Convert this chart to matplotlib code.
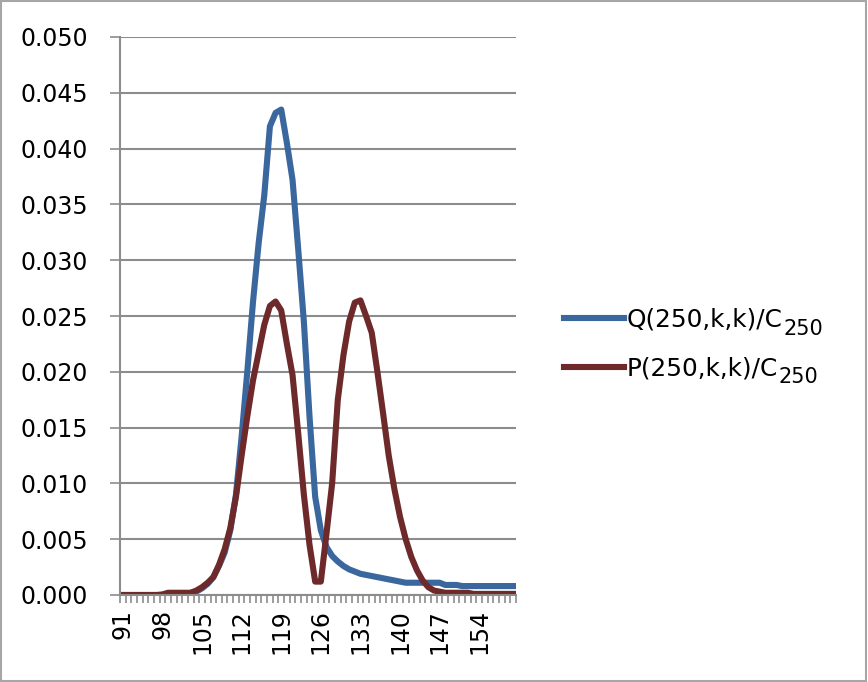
import matplotlib
matplotlib.use('Agg')
from matplotlib import pyplot as plt
from matplotlib.patches import Rectangle
from matplotlib.ticker import FixedLocator, FormatStrFormatter

# k runs from 91 to 160
k = list(range(91, 161))

# Q(250,k,k)/C250
q = [0, 0, 0, 0, 0, 0, 0, 0, 0, 0,
     0.00005, 0.0001, 0.0002, 0.0003, 0.0006, 0.0010, 0.0016, 0.0026, 0.0038, 0.0058,
     0.0090, 0.0142, 0.0200, 0.0262, 0.0315, 0.0358, 0.0420, 0.0432, 0.0435, 0.0405,
     0.0372, 0.0310, 0.0245, 0.0160, 0.0088, 0.0058, 0.0043, 0.0035, 0.0030, 0.0026,
     0.0023, 0.0021, 0.0019, 0.0018, 0.0017, 0.0016, 0.0015, 0.0014, 0.0013, 0.0012,
     0.0011, 0.0011, 0.0011, 0.0011, 0.0011, 0.0011, 0.0011, 0.0009, 0.0009, 0.0009,
     0.0008, 0.0008, 0.0008, 0.0008, 0.0008, 0.0008, 0.0008, 0.0008, 0.0008, 0.0008]

# P(250,k,k)/C250
p = [0, 0, 0, 0, 0, 0, 0, 0.00005, 0.0002, 0.0002,
     0.0002, 0.0002, 0.0002, 0.0004, 0.0007, 0.0011, 0.0016, 0.0027, 0.0041, 0.0060,
     0.0088, 0.0125, 0.0160, 0.0192, 0.0217, 0.0242, 0.0259, 0.0263, 0.0255, 0.0225,
     0.0197, 0.0145, 0.0090, 0.0045, 0.0012, 0.0012, 0.0055, 0.0100, 0.0175, 0.0215,
     0.0245, 0.0262, 0.0264, 0.0250, 0.0235, 0.0200, 0.0163, 0.0125, 0.0095, 0.0070,
     0.0050, 0.0034, 0.0022, 0.0013, 0.0007, 0.0004, 0.0003, 0.0002, 0.0002, 0.0002,
     0.0002, 0.0002, 0.0001, 0.0001, 0.0001, 0.0001, 0.0001, 0.0001, 0.0001, 0.0001]

xlabels = [91, 98, 105, 112, 119, 126, 133, 140, 147, 154]
yticks = [i * 0.005 for i in range(11)]
names = ['Q(250,k,k)/C', 'P(250,k,k)/C']
sub = '250'

plt.rcParams['font.family'] = 'DejaVu Sans'
grey = '#8c8c8c'
fs = 17

fig = plt.figure(figsize=(8.68, 6.82), dpi=100)
ax = fig.add_axes([120/868, 1-595/682, 396/868, 558/682])

ax.plot(k, q, color='#3a679e', lw=4.4, solid_joinstyle='round', label=names[0])
ax.plot(k, p, color='#6e2a2a', lw=4.4, solid_joinstyle='round', label=names[1])

ax.set_xlim(90.5, 160.5)
ax.set_ylim(0, 0.050)

# y axis
ax.set_yticks(yticks)
ax.yaxis.set_major_formatter(FormatStrFormatter('%.3f'))
ax.grid(axis='y', color=grey, lw=1.5)
ax.set_axisbelow(True)
ax.tick_params(axis='y', length=7, width=1.2, color=grey, labelsize=fs, pad=16)

# x axis: labels every 7 categories, tick marks between every category
ax.set_xticks(xlabels)
ax.set_xticklabels([str(x) for x in xlabels], rotation=90)
ax.xaxis.set_minor_locator(FixedLocator([x + 0.5 for x in range(90, 161)]))
ax.tick_params(axis='x', which='major', length=0, labelsize=fs, pad=10)
ax.tick_params(axis='x', which='minor', length=6, width=1.2, color=grey)

for s in ['top', 'right']:
    ax.spines[s].set_visible(False)
for s in ['left', 'bottom']:
    ax.spines[s].set_color(grey)
    ax.spines[s].set_linewidth(1.5)

leg = ax.legend(loc='center left', bbox_to_anchor=(1.12, 0.45), frameon=False,
                fontsize=17.8, handlelength=2.45, handletextpad=0.1, labelspacing=1.0,
                borderpad=0, borderaxespad=0)
for line in leg.get_lines():
    line.set_linewidth(4.4)

# smaller, lowered subscript after each legend label
fig.canvas.draw()
W, H = fig.bbox.width, fig.bbox.height
for t in leg.get_texts():
    bb = t.get_window_extent()
    fig.text((bb.x1 + 1) / W, (bb.y0 - 7) / H, sub, fontsize=15,
             ha='left', va='bottom', color='black')

# light frame around the whole chart
fig.patches.append(Rectangle((0.001, 0.001), 0.997, 0.997, transform=fig.transFigure,
                             fill=False, edgecolor='#a6a6a6', lw=1.5))

fig.savefig('out.png', dpi=100)
